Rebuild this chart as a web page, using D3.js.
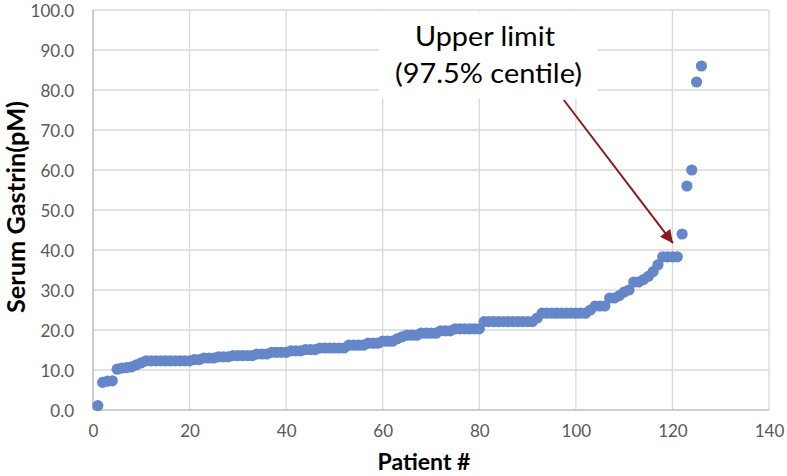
<!DOCTYPE html>
<html>
<head>
<meta charset="utf-8">
<script src="https://cdn.jsdelivr.net/npm/d3@7"></script>
<style>
  body { margin: 0; background: #fff; }
  svg { display: block; font-family: Lato, "Open Sans", sans-serif; }
</style>
</head>
<body>
<svg id="chart" width="787" height="476"></svg>
<script>
// serum gastrin per patient, sorted (patient # = position in list)
const gastrin = [
  1.1, 6.9, 7.2, 7.3, 10.2, 10.5, 10.6, 10.8, 11.3, 11.8,
  12.3, 12.3, 12.3, 12.3, 12.3, 12.3, 12.3, 12.3, 12.3, 12.3,
  12.6, 12.6, 13.0, 13.0, 13.0, 13.3, 13.3, 13.3, 13.6, 13.6,
  13.6, 13.6, 13.6, 14.0, 14.0, 14.0, 14.4, 14.4, 14.4, 14.4,
  14.8, 14.8, 14.8, 15.1, 15.1, 15.1, 15.5, 15.5, 15.5, 15.5,
  15.5, 15.5, 16.2, 16.2, 16.2, 16.2, 16.7, 16.7, 16.7, 17.2,
  17.2, 17.2, 17.8, 18.3, 18.7, 18.7, 18.7, 19.2, 19.2, 19.2,
  19.2, 19.8, 19.8, 19.8, 20.3, 20.3, 20.3, 20.3, 20.3, 20.3,
  22.1, 22.1, 22.1, 22.1, 22.1, 22.1, 22.1, 22.1, 22.1, 22.1,
  22.1, 23.0, 24.2, 24.2, 24.2, 24.2, 24.2, 24.2, 24.2, 24.2,
  24.2, 24.2, 25.0, 26.0, 26.0, 26.0, 28.0, 28.0, 28.6, 29.5,
  30.0, 32.0, 32.0, 32.6, 33.4, 34.6, 36.3, 38.3, 38.3, 38.3,
  38.3, 44.0, 56.0, 60.0, 82.0, 86.0
];
const xTicks = [0, 20, 40, 60, 80, 100, 120, 140];
const yTicks = [0, 10, 20, 30, 40, 50, 60, 70, 80, 90, 100];
const noteLines = ["Upper limit", "(97.5% centile)"];
// arrow start / end in data units (patient #, pM)
const arrowFrom = [97.5, 77.5];
const arrowTo = [120.1, 41.7];

const svg = d3.select('#chart');

const xScale = d3.scaleLinear().domain([0, 140]).range([93, 769]);
const yScale = d3.scaleLinear().domain([0, 100]).range([410, 10]);

// gridlines
svg.append('g').selectAll('line')
  .data(yTicks.slice(1))
  .enter().append('line')
  .attr('x1', xScale(0)).attr('x2', xScale(140))
  .attr('y1', d => yScale(d)).attr('y2', d => yScale(d))
  .attr('stroke', '#d9d9d9').attr('stroke-width', 1.3);

svg.append('g').selectAll('line')
  .data(xTicks.slice(1))
  .enter().append('line')
  .attr('x1', d => xScale(d)).attr('x2', d => xScale(d))
  .attr('y1', yScale(0)).attr('y2', yScale(100))
  .attr('stroke', '#d9d9d9').attr('stroke-width', 1.3);

// axis lines
svg.append('line')
  .attr('x1', xScale(0)).attr('x2', xScale(140))
  .attr('y1', yScale(0)).attr('y2', yScale(0))
  .attr('stroke', '#bfbfbf').attr('stroke-width', 1.6);
svg.append('line')
  .attr('x1', xScale(0)).attr('x2', xScale(0))
  .attr('y1', yScale(0)).attr('y2', yScale(100))
  .attr('stroke', '#bfbfbf').attr('stroke-width', 1.6);

// tick labels
const xAxis = svg.append('g')
  .attr('transform', 'translate(0,' + (yScale(0) + 12) + ')')
  .call(d3.axisBottom(xScale).tickValues(xTicks).tickSize(0).tickFormat(d3.format('d')));
const yAxis = svg.append('g')
  .attr('transform', 'translate(' + (xScale(0) - 19) + ',0)')
  .call(d3.axisLeft(yScale).tickValues(yTicks).tickSize(0).tickFormat(d3.format('.1f')));
[xAxis, yAxis].forEach(a => {
  a.select('.domain').remove();
  a.selectAll('text')
    .attr('fill', '#595959')
    .style('font-family', 'Lato, "Open Sans", sans-serif')
    .style('font-size', '17px');
});
yAxis.selectAll('text').attr('x', 0).attr('dy', '0.36em');

// axis titles
svg.append('text')
  .attr('x', 424).attr('y', 470)
  .attr('text-anchor', 'middle')
  .attr('font-weight', 'bold').attr('font-size', 23)
  .attr('fill', '#000')
  .text('Patient #');

svg.append('text')
  .attr('transform', 'translate(25,207) rotate(-90)')
  .attr('text-anchor', 'middle')
  .attr('font-weight', 'bold').attr('font-size', 24)
  .attr('textLength', 212).attr('lengthAdjust', 'spacingAndGlyphs')
  .attr('fill', '#000')
  .text('Serum Gastrin(pM)');

// points
svg.append('g').selectAll('circle')
  .data(gastrin)
  .enter().append('circle')
  .attr('cx', (d, i) => xScale(i + 1))
  .attr('cy', d => yScale(d))
  .attr('r', 5.6)
  .attr('fill', '#6586c9');

// annotation box + text
svg.append('rect')
  .attr('x', 379).attr('y', 11.5)
  .attr('width', 219).attr('height', 87)
  .attr('fill', '#fff');

svg.append('g').selectAll('text')
  .data(noteLines)
  .enter().append('text')
  .attr('x', (d, i) => i === 0 ? 485 : 488.5)
  .attr('y', (d, i) => i === 0 ? 46 : 83)
  .attr('text-anchor', 'middle')
  .attr('font-size', 27)
  .attr('textLength', (d, i) => i === 0 ? 140 : 187)
  .attr('lengthAdjust', 'spacingAndGlyphs')
  .attr('fill', '#000')
  .text(d => d);

// arrow
const defs = svg.append('defs');
defs.append('marker')
  .attr('id', 'head')
  .attr('viewBox', '0 0 10 10')
  .attr('refX', 10).attr('refY', 5)
  .attr('markerWidth', 7).attr('markerHeight', 6.5)
  .attr('markerUnits', 'strokeWidth')
  .attr('orient', 'auto')
  .append('path')
  .attr('d', 'M0,0 L10,5 L0,10 Z')
  .attr('fill', '#8b1a1a');

svg.append('line')
  .attr('x1', xScale(arrowFrom[0])).attr('y1', yScale(arrowFrom[1]))
  .attr('x2', xScale(arrowTo[0])).attr('y2', yScale(arrowTo[1]))
  .attr('stroke', '#8b1a1a').attr('stroke-width', 2)
  .attr('marker-end', 'url(#head)');
</script>
</body>
</html>
